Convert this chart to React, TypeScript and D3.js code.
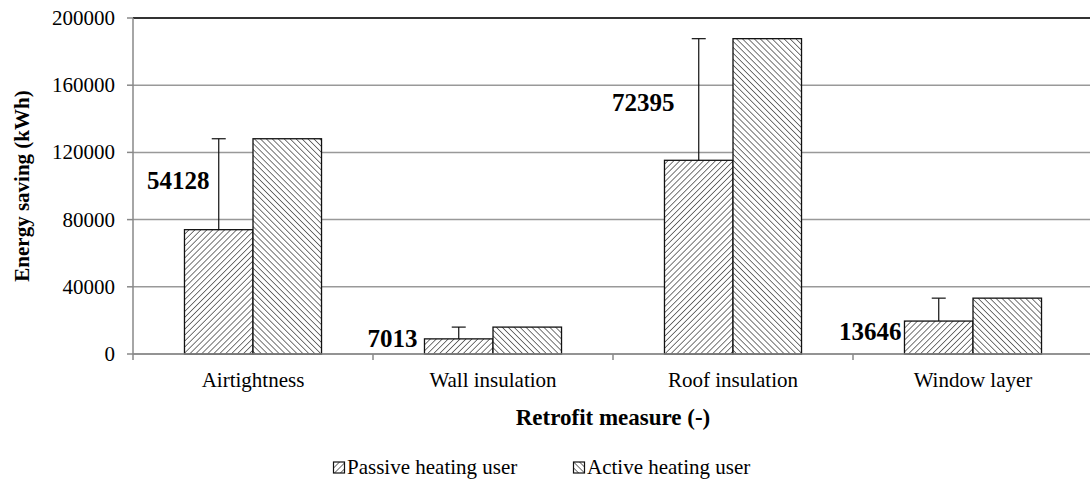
import * as d3 from 'd3';

const categories = ['Airtightness', 'Wall insulation', 'Roof insulation', 'Window layer'];
const passive = [74000, 9000, 115300, 19600];
const active = [128128, 16013, 187695, 33246];
const diffLabels = ['54128', '7013', '72395', '13646'];
const labelAt = [103500, 9000, 150000, 13200];
const yTicks = [0, 40000, 80000, 120000, 160000, 200000];
const seriesNames = ['Passive heating user', 'Active heating user'];

const W = 1090;
const H = 491;
const MARGIN = { top: 18, right: -3, bottom: 137, left: 133 };
const FONT = 'Liberation Serif, Times New Roman, serif';
// horizontal nudge of the difference labels, relative to the passive bar's left edge
const LABEL_DX = [25, -7, 10, -3];

export default function App() {
  const boundsWidth = W - MARGIN.left - MARGIN.right;
  const boundsHeight = H - MARGIN.top - MARGIN.bottom;

  const xScale = d3.scaleBand().domain(categories).range([0, boundsWidth]).paddingInner(0).paddingOuter(0);
  const yScale = d3.scaleLinear().domain([0, 200000]).range([boundsHeight, 0]);

  const band = xScale.bandwidth();
  const barW = band * 0.2855;
  const pad = (band - 2 * barW) / 2;

  const bars = categories.map((c, i) => {
    const x0 = (xScale(c) ?? 0) + pad;
    const ex = x0 + barW / 2;
    const yP = yScale(passive[i]);
    const yA = yScale(active[i]);
    return (
      <g key={c}>
        <rect x={x0} y={yP} width={barW} height={boundsHeight - yP} fill="url(#hatchP)" stroke="#111" strokeWidth={1.3} />
        <rect x={x0 + barW} y={yA} width={barW} height={boundsHeight - yA} fill="url(#hatchA)" stroke="#111" strokeWidth={1.3} />
        <line x1={ex} x2={ex} y1={yP} y2={yA} stroke="#111" strokeWidth={1.2} />
        <line x1={ex - 7} x2={ex + 7} y1={yA} y2={yA} stroke="#111" strokeWidth={1.2} />
        <text x={x0 + LABEL_DX[i]} y={yScale(labelAt[i])} textAnchor="end" dominantBaseline="central"
          style={{ fontFamily: FONT, fontWeight: 'bold', fontSize: 25 }} fill="#000">{diffLabels[i]}</text>
      </g>
    );
  });

  return (
    <svg width={W} height={H} style={{ position: 'absolute', left: 0, top: 0, background: '#fff', fontFamily: FONT }}>
      <defs>
        <pattern id="hatchP" patternUnits="userSpaceOnUse" width={4.2} height={4.2} patternTransform="rotate(45)">
          <rect width={4.2} height={4.2} fill="#fff" />
          <line x1={0} y1={0} x2={0} y2={4.2} stroke="#555" strokeWidth={1.6} />
        </pattern>
        <pattern id="hatchA" patternUnits="userSpaceOnUse" width={4.2} height={4.2} patternTransform="rotate(-45)">
          <rect width={4.2} height={4.2} fill="#fff" />
          <line x1={0} y1={0} x2={0} y2={4.2} stroke="#555" strokeWidth={1.6} />
        </pattern>
      </defs>
      <g transform={`translate(${MARGIN.left},${MARGIN.top})`}>
        {yTicks.map((t) => (
          <g key={t}>
            <line x1={0} x2={boundsWidth} y1={yScale(t)} y2={yScale(t)}
              stroke={t === 200000 ? '#333' : '#999'} strokeWidth={t === 200000 ? 2 : 1.5} />
            <line x1={-6} x2={0} y1={yScale(t)} y2={yScale(t)} stroke="#888" strokeWidth={1.5} />
            <text x={-18} y={yScale(t)} textAnchor="end" dominantBaseline="central" style={{ fontSize: 21 }} fill="#000">{t}</text>
          </g>
        ))}
        <line x1={0} x2={0} y1={0} y2={boundsHeight} stroke="#888" strokeWidth={1.5} />
        {categories.map((c, i) => (
          <line key={`t${i}`} x1={xScale(c)} x2={xScale(c)} y1={boundsHeight} y2={boundsHeight + 6} stroke="#888" strokeWidth={1.5} />
        ))}
        {bars}
        <line x1={0} x2={boundsWidth} y1={boundsHeight} y2={boundsHeight} stroke="#888" strokeWidth={1.5} />
        {categories.map((c) => (
          <text key={`l${c}`} x={(xScale(c) ?? 0) + band / 2} y={boundsHeight + 33} textAnchor="middle"
            style={{ fontSize: 21 }} fill="#000">{c}</text>
        ))}
      </g>
      <text transform={`translate(22,${MARGIN.top + boundsHeight / 2}) rotate(-90)`} textAnchor="middle"
        dominantBaseline="central" style={{ fontWeight: 'bold', fontSize: 21 }}>Energy saving (kWh)</text>
      <text x={613} y={425} textAnchor="middle" style={{ fontWeight: 'bold', fontSize: 23 }}>Retrofit measure (-)</text>
      <g transform="translate(333,462)">
        {seriesNames.map((s, i) => (
          <g key={s} transform={`translate(${i * 240},0)`}>
            <rect x={0.5} y={0} width={11} height={11} fill={i === 0 ? 'url(#hatchP)' : 'url(#hatchA)'} stroke="#111" strokeWidth={1.2} />
            <text x={14} y={12} style={{ fontSize: 21 }} fill="#000">{s}</text>
          </g>
        ))}
      </g>
    </svg>
  );
}
